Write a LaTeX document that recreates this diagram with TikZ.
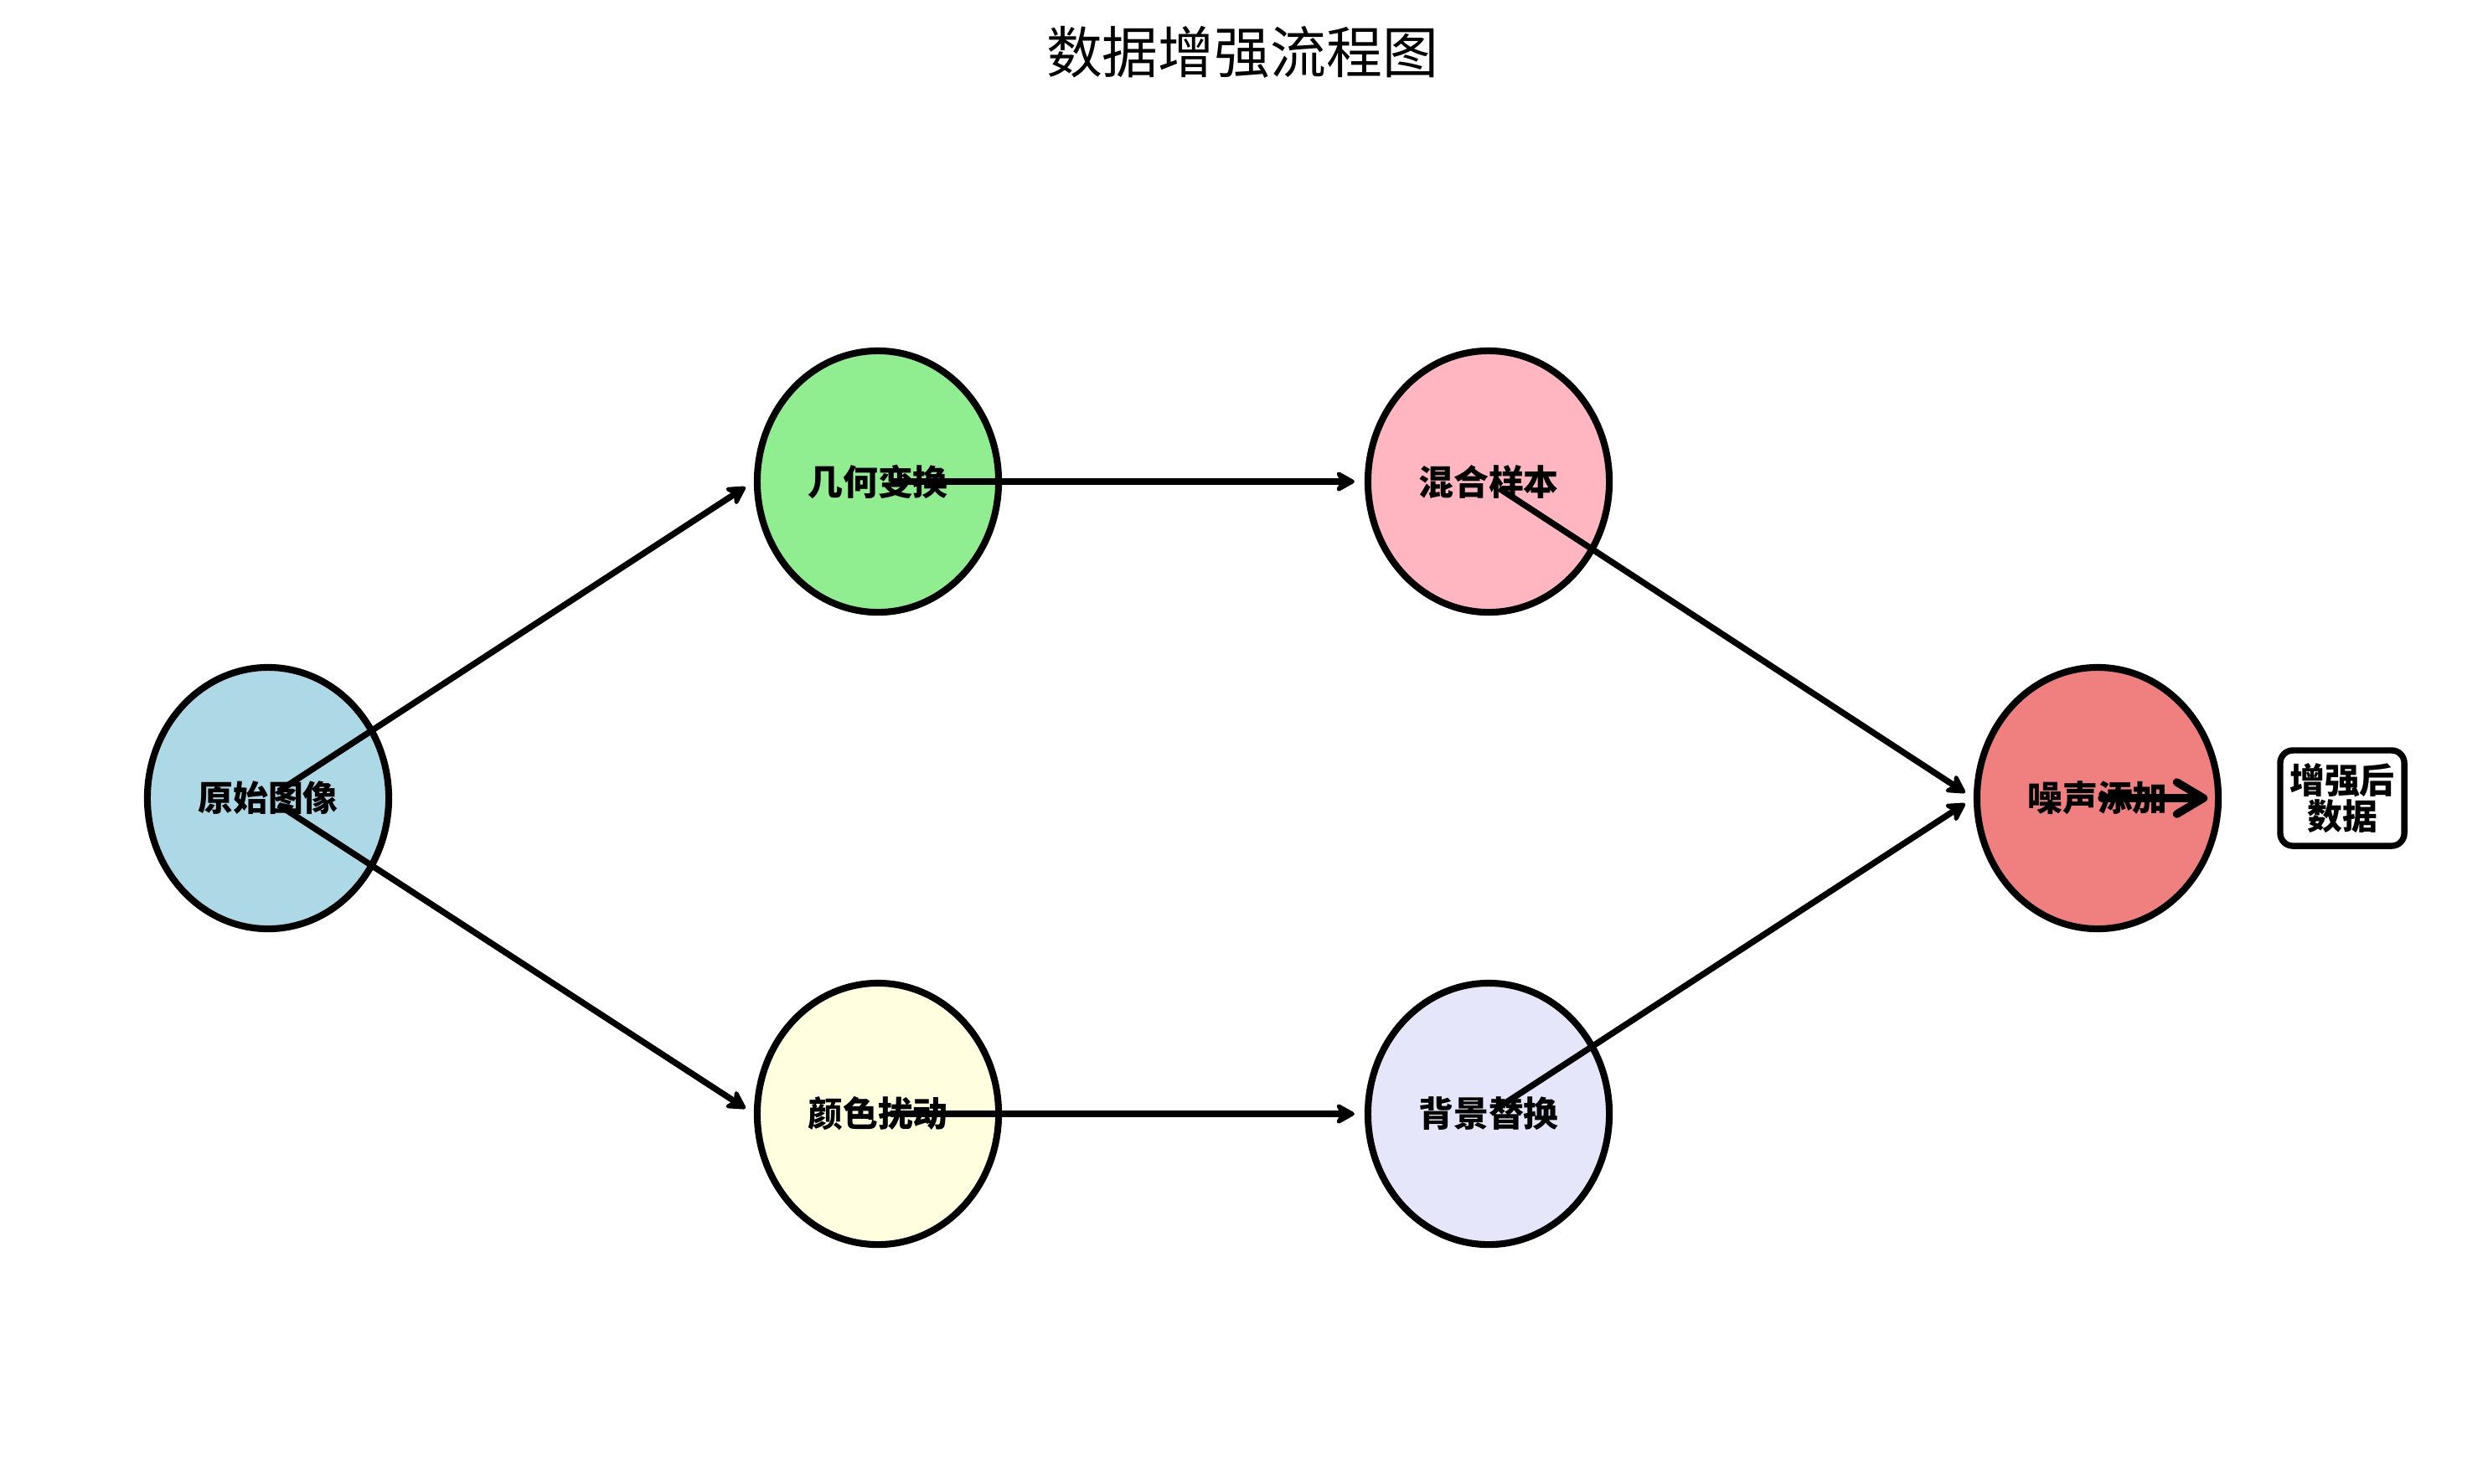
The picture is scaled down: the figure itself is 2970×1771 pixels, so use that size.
\documentclass[tikz,border=0pt]{standalone}
\usepackage{fontspec}
\newfontfamily\cjk{Noto Sans CJK SC}
\usetikzlibrary{shapes.geometric,arrows.meta}
\definecolor{cblue}{HTML}{ADD8E6}
\definecolor{cgreen}{HTML}{90EE90}
\definecolor{cpink}{HTML}{FFB6C1}
\definecolor{ccoral}{HTML}{F08080}
\definecolor{cyellow}{HTML}{FFFFE0}
\definecolor{clav}{HTML}{E6E6FA}
\tikzset{
  stage/.style={ellipse, draw=black, line width=2.3pt, minimum width=2.88cm, minimum height=3.12cm, inner sep=0pt, font=\cjk\bfseries\fontsize{11.9}{13}\selectfont},
  outbox/.style={rectangle, rounded corners=0.15cm, draw=black, fill=white, line width=2.1pt, minimum width=1.48cm, minimum height=1.14cm, inner sep=0pt, align=center, font=\cjk\bfseries\fontsize{11.9}{12.4}\selectfont},
  edge/.style={line width=2.1pt, -{Stealth[length=0.27cm,width=0.3cm,inset=0.08cm,round]}, shorten <=0.15cm, shorten >=0.12cm},
  inner/.style={line width=2.7pt, line cap=round, -{Straight Barb[length=0.32cm,width=0.38cm,line cap=round,line join=round]}, shorten <=0.05cm, shorten >=0.83cm},
  titletext/.style={font=\cjk\fontsize{19}{21}\selectfont}
}
\begin{document}
\begin{tikzpicture}[x=0.01cm,y=-0.01cm]
\useasboundingbox (0,0) rectangle (2970,1771);
\node[titletext] (title) at (1483,62) {数据增强流程图};
\node[stage, fill=cblue] (orig) at (320,953) {原始图像};
\node[stage, fill=cgreen] (geo) at (1048,575) {几何变换};
\node[stage, fill=cpink] (mix) at (1777,575) {混合样本};
\node[stage, fill=ccoral] (noise) at (2504,953) {噪声添加};
\node[stage, fill=cyellow] (color) at (1048,1330) {颜色扰动};
\node[stage, fill=clav] (bg) at (1777,1330) {背景替换};
\node[outbox] (out) at (2796,953) {增强后\\数据};
\draw[edge] (orig.center) -- (geo.west);
\draw[edge] (orig.center) -- (color.west);
\draw[edge] (geo.center) -- (mix.west);
\draw[edge] (color.center) -- (bg.west);
\draw[edge] (mix.center) -- (noise.west);
\draw[edge] (bg.center) -- (noise.west);
\draw[inner] (noise.center) -- (out.west);
\end{tikzpicture}
\end{document}
